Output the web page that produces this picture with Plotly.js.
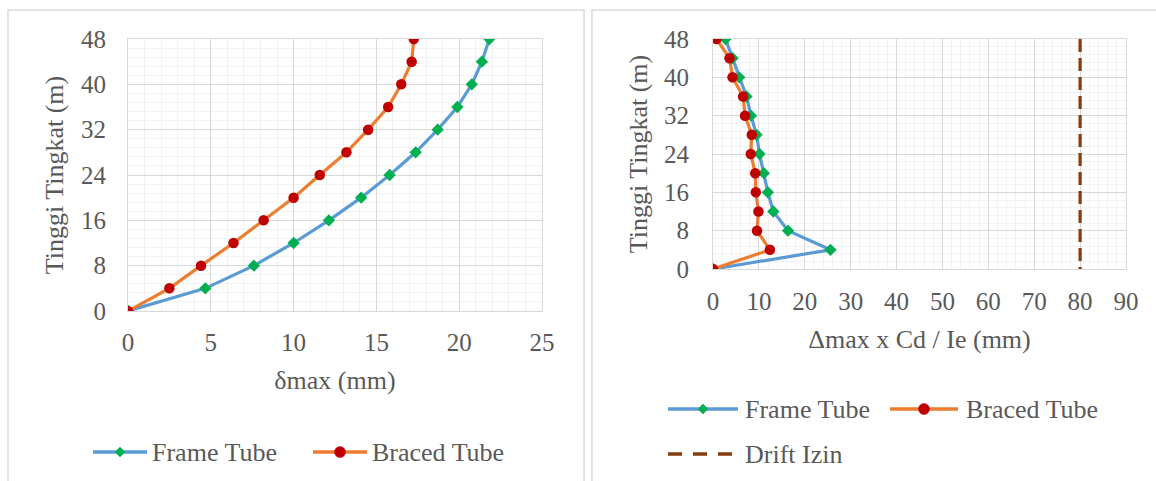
<!DOCTYPE html>
<html>
<head>
<meta charset="utf-8">
<script src="https://cdn.plot.ly/plotly-3.0.1.min.js"></script>
<style>html,body{margin:0;padding:0;background:#fff;}#chart{width:1156px;height:481px;}</style>
</head>
<body>
<div id="chart"></div>
<script>
// Story heights (m)
const heights = [0, 4, 8, 12, 16, 20, 24, 28, 32, 36, 40, 44, 48];
// Left chart: δmax (mm)
const frameDeltaMax = [0, 4.67, 7.6, 10.0, 12.13, 14.08, 15.8, 17.37, 18.7, 19.89, 20.76, 21.37, 21.82];
const bracedDeltaMax = [0, 2.5, 4.41, 6.37, 8.19, 10.0, 11.58, 13.19, 14.5, 15.71, 16.5, 17.13, 17.26];
// Right chart: Δmax x Cd / Ie (mm)
const frameDrift = [0, 25.6, 16.35, 13.15, 11.95, 11.08, 10.14, 9.5, 8.27, 7.3, 5.72, 4.27, 2.73];
const bracedDrift = [0, 12.4, 9.6, 9.9, 9.33, 9.21, 8.23, 8.45, 6.98, 6.56, 4.25, 3.6, 0.76];
// Allowable drift (Drift Izin)
const driftLimitX = [80, 80, 80, 80, 80, 80, 80, 80, 80, 80, 80, 80, 80];
const driftLimitY = [48, 44, 40, 36, 32, 28, 24, 20, 16, 12, 8, 4, 0];
// Tick values
const yTicks = [0, 8, 16, 24, 32, 40, 48];
const xTicksLeft = [0, 5, 10, 15, 20, 25];
const xTicksRight = [0, 10, 20, 30, 40, 50, 60, 70, 80, 90];
// Series names
const nameFrame = 'Frame Tube', nameBraced = 'Braced Tube', nameDrift = 'Drift Izin';

const W = 1156, H = 481;
const FONT = 'Liberation Serif, Times New Roman, serif';
const TXT = '#595959';
const BLUE = '#5B9BD5', ORANGE = '#ED7D31', GREEN = '#00B050', RED = '#C00000', BROWN = '#843C0C';
const DASH = '13px,6px';

function px(x) { return x / W; }
function py(y) { return 1 - y / H; }

const traces = [
  {x: frameDeltaMax, y: heights, name: nameFrame, type: 'scatter', mode: 'lines+markers',
   xaxis: 'x', yaxis: 'y',
   line: {color: BLUE, width: 3.2}, marker: {color: GREEN, symbol: 'diamond', size: 9.5}},
  {x: bracedDeltaMax, y: heights, name: nameBraced, type: 'scatter', mode: 'lines+markers',
   xaxis: 'x', yaxis: 'y',
   line: {color: ORANGE, width: 3.2}, marker: {color: RED, symbol: 'circle', size: 10.5}},
  {x: frameDrift, y: heights, name: nameFrame, type: 'scatter', mode: 'lines+markers',
   xaxis: 'x2', yaxis: 'y2',
   line: {color: BLUE, width: 3.2}, marker: {color: GREEN, symbol: 'diamond', size: 9.5}},
  {x: bracedDrift, y: heights, name: nameBraced, type: 'scatter', mode: 'lines+markers',
   xaxis: 'x2', yaxis: 'y2',
   line: {color: ORANGE, width: 3.2}, marker: {color: RED, symbol: 'circle', size: 10.5}},
  {x: driftLimitX, y: driftLimitY, name: nameDrift, type: 'scatter', mode: 'lines',
   xaxis: 'x2', yaxis: 'y2',
   line: {color: BROWN, width: 3.2, dash: DASH}}
];

function axisCommon() {
  return {
    showgrid: true, gridcolor: '#d9d9d9', gridwidth: 1,
    zeroline: false, showline: true, linecolor: '#d9d9d9', linewidth: 1, mirror: true,
    ticks: '', tickfont: {family: FONT, size: 25, color: TXT},
    fixedrange: true
  };
}

// ---- panel frames and legends (decorations) ----
const shapes = [
  {type: 'rect', xref: 'paper', yref: 'paper', x0: px(8), x1: px(584), y0: -0.05, y1: py(10),
   line: {color: '#d9d9d9', width: 1.5}, layer: 'below'},
  {type: 'rect', xref: 'paper', yref: 'paper', x0: px(592), x1: 1.05, y0: -0.05, y1: py(10),
   line: {color: '#d9d9d9', width: 1.5}, layer: 'below'}
];
const annotations = [];

function legendLine(x0, x1, y, color, dash) {
  shapes.push({type: 'line', xref: 'paper', yref: 'paper', x0: px(x0), x1: px(x1), y0: py(y), y1: py(y),
    line: {color: color, width: 3.5, dash: dash || 'solid'}});
}
function legendDiamond(cx, cy, r) {
  shapes.push({type: 'path', xref: 'paper', yref: 'paper',
    path: 'M' + px(cx - r) + ',' + py(cy) + ' L' + px(cx) + ',' + py(cy - r) + ' L' + px(cx + r) + ',' + py(cy) +
          ' L' + px(cx) + ',' + py(cy + r) + ' Z',
    fillcolor: GREEN, line: {color: GREEN, width: 0.5}});
}
function legendCircle(cx, cy, r) {
  shapes.push({type: 'circle', xref: 'paper', yref: 'paper', x0: px(cx - r), x1: px(cx + r), y0: py(cy + r), y1: py(cy - r),
    fillcolor: RED, line: {color: RED, width: 0.5}});
}
function legendText(x, y, text) {
  annotations.push({xref: 'paper', yref: 'paper', x: px(x), y: py(y), xanchor: 'left', yanchor: 'middle',
    text: text, showarrow: false, font: {family: FONT, size: 26, color: TXT}});
}

// left legend
legendLine(93, 147, 452, BLUE); legendDiamond(120, 452, 5); legendText(150, 452, nameFrame);
legendLine(313, 367, 452, ORANGE); legendCircle(340, 452, 5.5); legendText(370, 452, nameBraced);
// right legend
legendLine(668, 738, 409, BLUE); legendDiamond(703, 409, 5); legendText(743, 409, nameFrame);
legendLine(890, 958, 409, ORANGE); legendCircle(924, 409, 5.5); legendText(964, 409, nameBraced);
legendLine(668, 738, 454, BROWN, '14px,11px'); legendText(743, 454, nameDrift);

const layout = {
  width: W, height: H,
  margin: {l: 0, r: 0, t: 0, b: 0},
  paper_bgcolor: '#fff', plot_bgcolor: '#fff',
  showlegend: false,
  font: {family: FONT, color: TXT, size: 25},
  xaxis: Object.assign(axisCommon(), {
    domain: [px(128), px(542)], anchor: 'y', range: [0, 25], tickvals: xTicksLeft,
    minor: {dtick: 1, showgrid: true, gridcolor: '#f2f2f2', gridwidth: 1},
    ticklabelstandoff: 9,
    title: {text: 'δmax (mm)', font: {family: FONT, size: 26, color: TXT}, standoff: 15}
  }),
  yaxis: Object.assign(axisCommon(), {
    domain: [py(311), py(39)], anchor: 'x', range: [0, 48], tickvals: yTicks,
    minor: {dtick: 1.6, showgrid: true, gridcolor: '#f2f2f2', gridwidth: 1},
    ticklabelstandoff: 16,
    title: {text: 'Tinggi Tingkat (m)', font: {family: FONT, size: 26, color: TXT}, standoff: 9}
  }),
  xaxis2: Object.assign(axisCommon(), {
    domain: [px(713), px(1126)], anchor: 'y2', range: [0, 90], tickvals: xTicksRight,
    minor: {dtick: 2, showgrid: true, gridcolor: '#f2f2f2', gridwidth: 1},
    ticklabelstandoff: 10,
    title: {text: 'Δmax x Cd / Ie (mm)', font: {family: FONT, size: 26, color: TXT}, standoff: 15}
  }),
  yaxis2: Object.assign(axisCommon(), {
    domain: [py(269), py(39)], anchor: 'x2', range: [0, 48], tickvals: yTicks,
    minor: {dtick: 1.6, showgrid: true, gridcolor: '#f2f2f2', gridwidth: 1},
    ticklabelstandoff: 18,
    title: {text: 'Tinggi Tingkat (m)', font: {family: FONT, size: 26, color: TXT}, standoff: 8}
  }),
  shapes: shapes,
  annotations: annotations
};

Plotly.newPlot('chart', traces, layout, {displayModeBar: false, staticPlot: true});
</script>
</body>
</html>
